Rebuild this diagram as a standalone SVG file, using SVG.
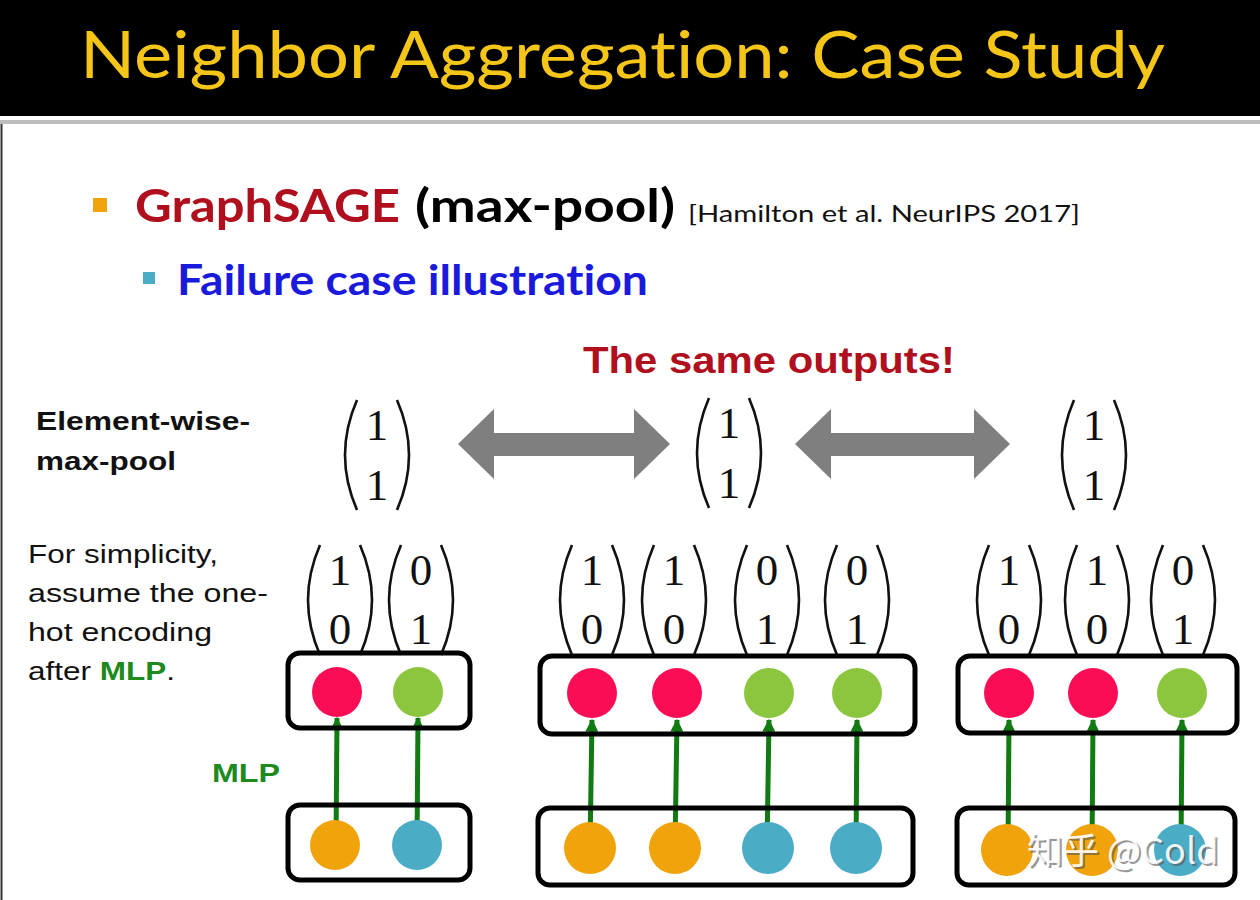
<svg xmlns="http://www.w3.org/2000/svg" width="1260" height="900" viewBox="0 0 1260 900">
<style>
.dig{font-family:"Liberation Serif","DejaVu Serif",serif;font-size:45px;fill:#111;text-anchor:middle}
.box{fill:none;stroke:#000;stroke-width:5}
.red{fill:#fb0d55}.grn{fill:#8cc63f}.org{fill:#f0a30a}.blu{fill:#4bacc6}
.mlp{stroke:#127a12;stroke-width:5;fill:none;marker-end:url(#ga)}
.body{font-family:"Liberation Sans",Arial,sans-serif;font-size:26px}
.cal{font-family:Lato,"Open Sans",sans-serif;font-variant-ligatures:none;font-feature-settings:"liga" 0}
</style>
<defs>
<marker id="ga" viewBox="0 0 10 10" refX="9" refY="5" markerWidth="2.6" markerHeight="2.6" orient="auto"><path d="M0 0L10 5L0 10z" fill="#127a12"/></marker>
<g id="lp"><path d="M-20 0Q-44 55 -20 110" fill="none" stroke="#111" stroke-width="2.6"/></g>
<g id="rp"><path d="M20 0Q44 55 20 110" fill="none" stroke="#111" stroke-width="2.6"/></g>
</defs>
<rect width="1260" height="900" fill="#fff"/>
<rect width="1260" height="116" fill="#000"/>
<rect y="120" width="1260" height="4" fill="#bdbdbd"/>
<line x1="1.5" y1="124" x2="1.5" y2="900" stroke="#333" stroke-width="2"/>
<text x="80" y="78" class="cal" font-size="66" fill="#f5c518" textLength="1085" lengthAdjust="spacingAndGlyphs">Neighbor Aggregation: Case Study</text>

<rect x="93" y="198" width="14" height="14" fill="#f0a30a"/>
<text x="135" y="222" class="cal" font-size="46" font-weight="bold" fill="#b0101e" textLength="265" lengthAdjust="spacingAndGlyphs">GraphSAGE</text>
<text x="415" y="222" class="cal" font-size="46" font-weight="bold" fill="#000" textLength="260" lengthAdjust="spacingAndGlyphs">(max-pool)</text>
<text x="688" y="222" class="cal" font-size="24" fill="#111" textLength="392" lengthAdjust="spacingAndGlyphs">[Hamilton et al. NeurIPS 2017]</text>
<rect x="143" y="272" width="12" height="12" fill="#4bacc6"/>
<text x="177" y="295" class="cal" font-size="42" font-weight="bold" fill="#1a1adc" textLength="471" lengthAdjust="spacingAndGlyphs">Failure case illustration</text>

<text x="583" y="373" font-family="Liberation Sans,Arial,sans-serif" font-size="37" font-weight="bold" fill="#b0101e" textLength="372" lengthAdjust="spacingAndGlyphs">The same outputs!</text>

<text x="36" y="430" class="body" font-weight="bold" fill="#111" textLength="214" lengthAdjust="spacingAndGlyphs">Element-wise-</text>
<text x="36" y="470" class="body" font-weight="bold" fill="#111" textLength="140" lengthAdjust="spacingAndGlyphs">max-pool</text>

<text x="28" y="563" class="body" fill="#111" textLength="190" lengthAdjust="spacingAndGlyphs">For simplicity,</text>
<text x="28" y="602" class="body" fill="#111" textLength="240" lengthAdjust="spacingAndGlyphs">assume the one-</text>
<text x="28" y="641" class="body" fill="#111" textLength="184" lengthAdjust="spacingAndGlyphs">hot encoding</text>
<text x="28" y="680" class="body" fill="#111" textLength="147" lengthAdjust="spacingAndGlyphs">after <tspan font-weight="bold" fill="#1e8a1e">MLP</tspan>.</text>

<text x="212" y="782" class="body" font-weight="bold" fill="#1e8a1e" textLength="68" lengthAdjust="spacingAndGlyphs">MLP</text>

<!-- pooled outputs -->
<g id="out1" transform="translate(377,400)"><use href="#lp"/><use href="#rp"/><text class="dig" y="40">1</text><text class="dig" y="100">1</text></g>
<g id="out2" transform="translate(729,398)"><use href="#lp"/><use href="#rp"/><text class="dig" y="40">1</text><text class="dig" y="100">1</text></g>
<g id="out3" transform="translate(1094,400)"><use href="#lp"/><use href="#rp"/><text class="dig" y="40">1</text><text class="dig" y="100">1</text></g>

<g id="connectors">
<path d="M458 444L494 409L494 433L634 433L634 409L670 444L634 479L634 456L494 456L494 479Z" fill="#7f7f7f"/>
<path d="M795 444L831 409L831 433L974 433L974 409L1010 444L974 479L974 456L831 456L831 479Z" fill="#7f7f7f"/>
<line class="mlp" x1="336" y1="845" x2="337" y2="718"/>
<line class="mlp" x1="417" y1="845" x2="418" y2="718"/>
<line class="mlp" x1="590" y1="848" x2="592" y2="720"/>
<line class="mlp" x1="675" y1="848" x2="677" y2="720"/>
<line class="mlp" x1="767" y1="848" x2="769" y2="720"/>
<line class="mlp" x1="856" y1="848" x2="857" y2="720"/>
<line class="mlp" x1="1008" y1="850" x2="1009" y2="720"/>
<line class="mlp" x1="1092" y1="850" x2="1093" y2="720"/>
<line class="mlp" x1="1181" y1="850" x2="1182" y2="720"/>
</g>

<!-- group 1 -->
<g id="g1-vecs">
<g transform="translate(340,545)"><use href="#lp"/><use href="#rp"/><text class="dig" y="40">1</text><text class="dig" y="99">0</text></g>
<g transform="translate(421,545)"><use href="#lp"/><use href="#rp"/><text class="dig" y="40">0</text><text class="dig" y="99">1</text></g>
</g>
<g id="g1-top"><rect class="box" x="288" y="653" width="182" height="75" rx="12"/><circle class="red" cx="337" cy="692" r="25"/><circle class="grn" cx="418" cy="692" r="25"/></g>
<g id="g1-bot"><rect class="box" x="288" y="805" width="182" height="75" rx="12"/><circle class="org" cx="335" cy="845" r="25"/><circle class="blu" cx="417" cy="845" r="25"/></g>

<!-- group 2 -->
<g id="g2-vecs">
<g transform="translate(592,545)"><use href="#lp"/><use href="#rp"/><text class="dig" y="40">1</text><text class="dig" y="99">0</text></g>
<g transform="translate(674,545)"><use href="#lp"/><use href="#rp"/><text class="dig" y="40">1</text><text class="dig" y="99">0</text></g>
<g transform="translate(767,545)"><use href="#lp"/><use href="#rp"/><text class="dig" y="40">0</text><text class="dig" y="99">1</text></g>
<g transform="translate(857,545)"><use href="#lp"/><use href="#rp"/><text class="dig" y="40">0</text><text class="dig" y="99">1</text></g>
</g>
<g id="g2-top"><rect class="box" x="540" y="656" width="375" height="78" rx="12"/><circle class="red" cx="592" cy="693" r="25"/><circle class="red" cx="677" cy="693" r="25"/><circle class="grn" cx="769" cy="693" r="25"/><circle class="grn" cx="857" cy="693" r="25"/></g>
<g id="g2-bot"><rect class="box" x="538" y="808" width="375" height="77" rx="12"/><circle class="org" cx="590" cy="848" r="26"/><circle class="org" cx="675" cy="848" r="26"/><circle class="blu" cx="768" cy="848" r="26"/><circle class="blu" cx="856" cy="848" r="26"/></g>

<!-- group 3 -->
<g id="g3-vecs">
<g transform="translate(1009,545)"><use href="#lp"/><use href="#rp"/><text class="dig" y="40">1</text><text class="dig" y="99">0</text></g>
<g transform="translate(1097,545)"><use href="#lp"/><use href="#rp"/><text class="dig" y="40">1</text><text class="dig" y="99">0</text></g>
<g transform="translate(1183,545)"><use href="#lp"/><use href="#rp"/><text class="dig" y="40">0</text><text class="dig" y="99">1</text></g>
</g>
<g id="g3-top"><rect class="box" x="958" y="656" width="279" height="77" rx="12"/><circle class="red" cx="1009" cy="693" r="25"/><circle class="red" cx="1093" cy="693" r="25"/><circle class="grn" cx="1182" cy="693" r="25"/></g>
<g id="g3-bot"><rect class="box" x="957" y="808" width="278" height="77" rx="12"/><circle class="org" cx="1007" cy="850" r="26"/><circle class="org" cx="1092" cy="850" r="26"/><circle class="blu" cx="1180" cy="850" r="26"/></g>

<text x="1027" y="864" font-family="Noto Sans CJK SC,sans-serif" font-size="36" fill="#555" opacity="0.6" transform="translate(2,2)">知乎 @Cold</text>
<text x="1027" y="864" font-family="Noto Sans CJK SC,sans-serif" font-size="36" fill="#fff" opacity="0.9">知乎 @Cold</text>
</svg>
